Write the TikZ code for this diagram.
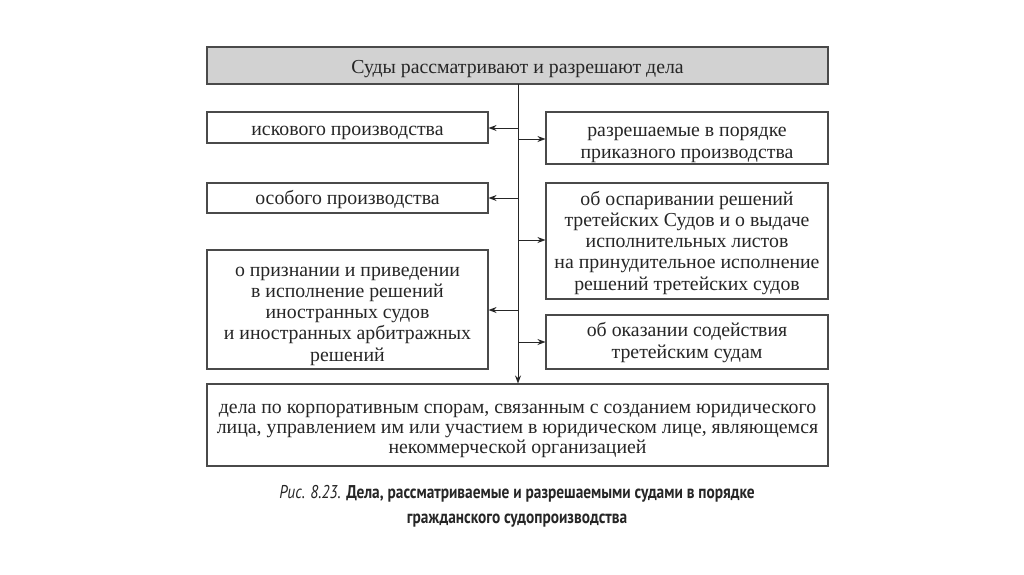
\documentclass[tikz,border=0pt]{standalone}
\usepackage{fontspec}
\setmainfont{Liberation Serif}
\newfontfamily\capfont[FakeStretch=0.83]{PT Sans}
\usetikzlibrary{arrows.meta}
\definecolor{edge}{HTML}{4A4A4A}
\definecolor{ink}{HTML}{262626}
\definecolor{topfill}{HTML}{D2D2D2}
\begin{document}
\begin{tikzpicture}[x=1pt,y=-1pt,
  box/.style={draw=edge,line width=1.1pt,rectangle,inner sep=0pt},
  txt/.style={inner sep=0pt,align=center,text=ink,anchor=base,font=\fontsize{19.8}{21.2}\selectfont},
  arr/.style={draw=ink,line width=0.9pt,-{Stealth[length=8pt,width=6pt]}},
  capline/.style={text=ink,font=\capfont\fontsize{18.5}{20}\selectfont}]
\useasboundingbox[fill=white] (0,0) rectangle (1024,574);
% boxes
\node[box,fill=topfill,minimum width=621pt,minimum height=37pt] (top) at (517.5,65.5) {};
\node[box,minimum width=281pt,minimum height=31pt] (l1) at (347.5,127.5) {};
\node[box,minimum width=282pt,minimum height=52pt] (r1) at (687,138) {};
\node[box,minimum width=281pt,minimum height=30pt] (l2) at (347.5,198) {};
\node[box,minimum width=282pt,minimum height=116pt] (r2) at (687,241) {};
\node[box,minimum width=281pt,minimum height=119pt] (l3) at (347.5,309.5) {};
\node[box,minimum width=282pt,minimum height=54pt] (r3) at (687,342) {};
\node[box,minimum width=621pt,minimum height=82pt] (bot) at (517.5,425) {};
% texts (anchored at the baseline of their last line)
\node[txt] (topt) at (517.5,73) {Суды рассматривают и разрешают дела};
\node[txt] (l1t) at (347.5,135) {искового производства};
\node[txt] (r1t) at (687,158) {разрешаемые в порядке\\приказного производства};
\node[txt] (l2t) at (347.5,204) {особого производства};
\node[txt] (r2t) at (687,290) {об оспаривании решений\\третейских Судов и о выдаче\\исполнительных листов\\на принудительное исполнение\\решений третейских судов};
\node[txt] (l3t) at (347.5,361) {о признании и приведении\\в исполнение решений\\иностранных судов\\и иностранных арбитражных\\решений};
\node[txt] (r3t) at (687,358) {об оказании содействия\\третейским судам};
\node[txt,font=\fontsize{19.8}{20}\selectfont] (bott) at (517.5,453) {дела по корпоративным спорам, связанным с созданием юридического\\лица, управлением им или участием в юридическом лице, являющемся\\некоммерческой организацией};
% connectors
\coordinate (t0) at (518,84);
\coordinate (j1) at (518,128);
\coordinate (j2) at (518,139);
\coordinate (j3) at (518,198);
\coordinate (j4) at (518,240);
\coordinate (j5) at (518,310);
\coordinate (j6) at (518,342);
\draw[arr] (t0) -- (t0 |- bot.north);
\draw[arr] (j1) -- (j1 -| l1.east);
\draw[arr] (j2) -- (j2 -| r1.west);
\draw[arr] (j3) -- (j3 -| l2.east);
\draw[arr] (j4) -- (j4 -| r2.west);
\draw[arr] (j5) -- (j5 -| l3.east);
\draw[arr] (j6) -- (j6 -| r3.west);
\node[capline] (cap1) at (517,494) {\textit{Рис. 8.23.} \textbf{Дела, рассматриваемые и разрешаемыми судами в порядке}};
\node[capline] (cap2) at (517,521) {\textbf{гражданского судопроизводства}};
\end{tikzpicture}
\end{document}
